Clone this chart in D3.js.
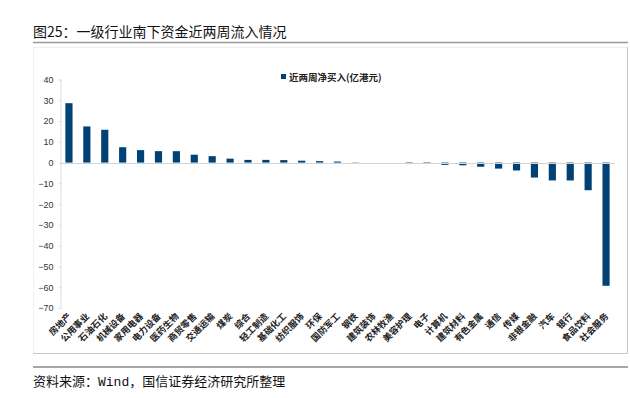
<!DOCTYPE html>
<html><head><meta charset="utf-8">
<script src="https://cdn.jsdelivr.net/npm/d3@7"></script>
<style>
html,body{margin:0;padding:0;background:#fff;}
svg{display:block;}
</style></head>
<body>
<svg id="chart" width="630" height="398"></svg>
<script>
const categories = ["房地产","公用事业","石油石化","机械设备","家用电器","电力设备","医药生物","商贸零售","交通运输","煤炭","综合","轻工制造","基础化工","纺织服饰","环保","国防军工","钢铁","建筑装饰","农林牧渔","美容护理","电子","计算机","建筑材料","有色金属","通信","传媒","非银金融","汽车","银行","食品饮料","社会服务"];
const values = [28.6,17.4,15.8,7.4,6.0,5.5,5.5,3.8,3.1,1.9,1.3,1.3,1.2,0.9,0.7,0.5,0.1,0.0,0.0,-0.3,-0.6,-1.1,-1.3,-2.0,-2.9,-3.8,-7.2,-8.6,-8.6,-13.3,-59.3];
const yTicks = [40,30,20,10,0,-10,-20,-30,-40,-50,-60,-70];
const seriesName = "近两周净买入(亿港元)";
const titleText = "图25：一级行业南下资金近两周流入情况";
const sourceText = "资料来源：Wind，国信证券经济研究所整理";

const svg = d3.select("#chart");
const CJK = "'Noto Sans CJK SC','Liberation Sans',sans-serif";
const NUM = "'Liberation Sans',Arial,sans-serif";

// title
svg.append("text").attr("x",33).attr("y",36.5).attr("font-family",CJK)
  .attr("font-size",14).attr("fill","#111").text(titleText);
svg.append("line").attr("x1",33).attr("x2",628).attr("y1",42.5).attr("y2",42.5)
  .attr("stroke","#9a9a9a").attr("stroke-width",1.5);

// frame
svg.append("path").attr("d","M33.5,47.5H627.5V353.5H33.5Z").attr("fill","none")
  .attr("stroke","#f0f0f0").attr("stroke-width",1);
svg.append("path").attr("d","M627.5,47V353.5H33").attr("fill","none")
  .attr("stroke","#c8c8c8").attr("stroke-width",1);
svg.append("line").attr("x1",33).attr("x2",628).attr("y1",367).attr("y2",367)
  .attr("stroke","#8a8a8a").attr("stroke-width",1.5);

// source
svg.append("text").attr("x",33).attr("y",386).attr("font-family","'Liberation Mono','Noto Sans CJK SC',monospace")
  .attr("font-size",13).attr("fill","#111").text(sourceText);

// scales
const x = d3.scaleBand().domain(categories).range([60,615]).paddingInner(0.6).paddingOuter(0.3);
const y = d3.scaleLinear().domain([-70,40]).range([308,79.5]);

// y axis
const yAxis = svg.append("g").attr("transform","translate(60.5,0)")
  .call(d3.axisLeft(y).tickValues(yTicks).tickSize(2).tickPadding(5)
    .tickFormat(d => d < 0 ? "\u2212" + Math.abs(d) : d));
yAxis.select(".domain").attr("stroke","#dddddd");
yAxis.selectAll(".tick line").attr("stroke","#dddddd");
yAxis.selectAll("text").attr("font-family",NUM).attr("font-size",9).attr("fill","#333");

// bars
svg.append("g").selectAll("rect").data(categories).join("rect")
  .attr("x", d => x(d))
  .attr("width", x.bandwidth())
  .attr("y", (d,i) => y(Math.max(0, values[i])))
  .attr("height", (d,i) => Math.abs(y(values[i]) - y(0)))
  .attr("fill","#004276");

// zero line
svg.append("line").attr("x1",60).attr("x2",615).attr("y1",Math.round(y(0))+0.5).attr("y2",Math.round(y(0))+0.5)
  .attr("stroke","#d4d4d4").attr("stroke-width",1);

// x labels
const xAxis = svg.append("g").attr("transform",`translate(0,${y(-70)})`)
  .call(d3.axisBottom(x).tickSize(0).tickPadding(0));
xAxis.select(".domain").remove();
xAxis.selectAll("text")
  .attr("font-family",CJK).attr("font-size",9).attr("fill","#222").attr("font-weight","bold")
  .attr("text-anchor","end").attr("dy",0)
  .attr("transform","translate(3,9) rotate(-45)");

// legend
const lg = svg.append("g");
lg.append("rect").attr("x",281).attr("y",74).attr("width",5).attr("height",5).attr("fill","#004276");
lg.append("text").attr("x",289).attr("y",80.5).attr("font-family",CJK).attr("font-size",9.5)
  .attr("font-weight","bold").attr("fill","#222").text(seriesName);
</script>
</body></html>
